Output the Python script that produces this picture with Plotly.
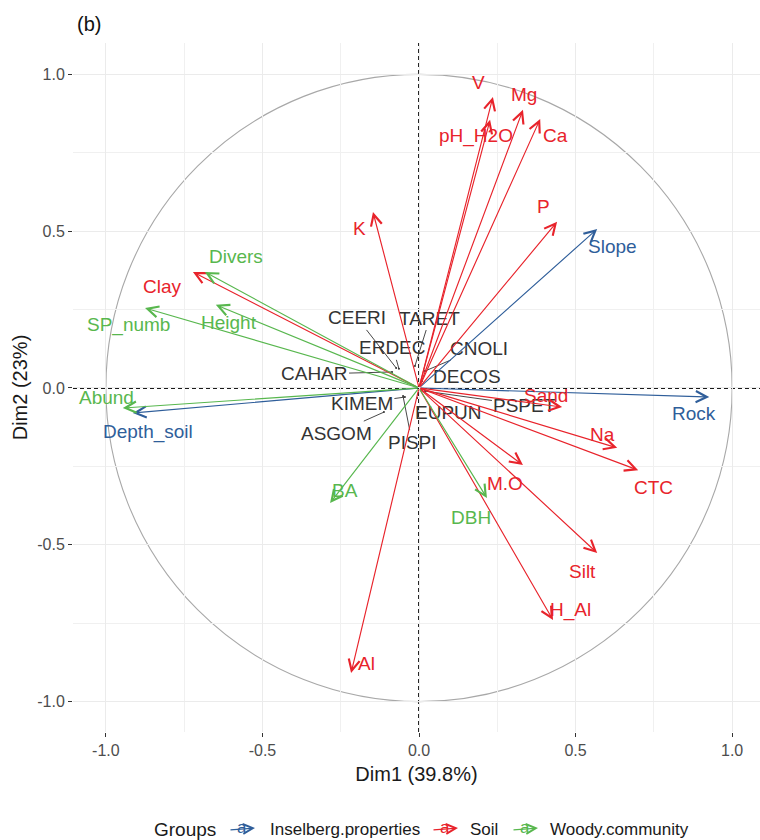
import plotly.graph_objects as go

# ---- variable loadings (correlation circle) ----
var_names = ["Rock", "Slope", "Depth_soil",
             "V", "pH_H2O", "Mg", "Ca", "P", "K", "Clay", "Sand", "Na", "CTC",
             "M.O", "Silt", "H_Al", "Al",
             "Divers", "SP_numb", "Height", "Abund", "BA", "DBH"]
var_groups = ["Inselberg.properties"] * 3 + ["Soil"] * 14 + ["Woody.community"] * 6
dim1 = [0.927, 0.569, -0.914,
        0.236, 0.227, 0.332, 0.387, 0.441, -0.147, -0.722, 0.457, 0.633, 0.700,
        0.332, 0.569, 0.428, -0.217,
        -0.684, -0.875, -0.649, -0.946, -0.284, 0.217]
dim2 = [-0.029, 0.507, -0.080,
        0.928, 0.855, 0.887, 0.858, 0.530, 0.561, 0.370, -0.061, -0.191, -0.262,
        -0.246, -0.526, -0.740, -0.909,
        0.370, 0.255, 0.265, -0.064, -0.367, -0.351]

# ---- individuals (species codes) ----
ind_names = ["CEERI", "TARET", "ERDEC", "CNOLI", "CAHAR", "DECOS",
             "KIMEM", "ASGOM", "EUPUN", "PISPI", "PSPET"]
ind_dim1 = [-0.073, -0.013, -0.064, 0.019, -0.086, 0.010,
            -0.045, -0.112, -0.006, -0.051, 0.019]
ind_dim2 = [0.064, 0.070, 0.061, 0.054, 0.051, 0.022,
            -0.029, -0.077, -0.032, -0.026, -0.010]

group_order = ["Inselberg.properties", "Soil", "Woody.community"]
group_colors = {"Inselberg.properties": "#2F5E9A",
                "Soil": "#E8232B",
                "Woody.community": "#58B74E"}

# label placement (pixel offsets from arrow tips; right, down)
var_label_offsets = {
    "Rock": (-15, 16), "Slope": (15, 18), "Depth_soil": (15, 19),
    "V": (-14, -14), "pH_H2O": (-14, 16), "Mg": (1, -15), "Ca": (15, 17),
    "P": (-14, -15), "K": (-13, 16), "Clay": (-30, 15), "Sand": (-16, -12),
    "Na": (-15, -13), "CTC": (15, 17), "M.O": (-18, 18), "Silt": (-15, 19),
    "H_Al": (17, -10), "Al": (15, -10),
    "Divers": (31, -15), "SP_numb": (-17, 17), "Height": (13, 18),
    "Abund": (-16, -11), "BA": (15, -13), "DBH": (-16, 19),
}
# repelled label offsets for individuals (pixels; right, down) and whether a leader is drawn
ind_label_offsets = {
    "CEERI": (-39, -50, True), "TARET": (15, -48, True), "ERDEC": (-6, -21, True),
    "CNOLI": (54, -23, True), "CAHAR": (-78, 2, True), "DECOS": (45, -5, False),
    "KIMEM": (-43, 6, True), "ASGOM": (-47, 21, True), "EUPUN": (31, 14, False),
    "PISPI": (9, 46, True), "PSPET": (100, 14, True),
}

FONT = "Liberation Sans, Arial, sans-serif"
W, H = 760, 840
ML, MR, MT, MB = 73, 0, 43, 108
XR = [-1.105, 1.089]
YR = [-1.097, 1.100]
PW = W - ML - MR
PH = H - MT - MB


def paper_x(px):
    return (px - ML) / PW


def paper_y(py):
    return (H - MB - py) / PH


fig = go.Figure()
# individual positions (tiny dark dots at the origin cluster)
fig.add_trace(go.Scatter(x=ind_dim1, y=ind_dim2, mode="markers",
                         marker=dict(size=2, color="#333333"),
                         showlegend=False, hoverinfo="skip"))

# reference lines and unit circle
fig.add_shape(type="line", xref="x", yref="y", x0=0, x1=0, y0=YR[0], y1=YR[1],
              line=dict(color="#1a1a1a", width=1.9, dash="4px,3px"), layer="below")
fig.add_shape(type="line", xref="x", yref="y", x0=XR[0], x1=XR[1], y0=0, y1=0,
              line=dict(color="#1a1a1a", width=1.9, dash="4px,3px"), layer="below")
fig.add_shape(type="circle", xref="x", yref="y", x0=-1, x1=1, y0=-1, y1=1,
              line=dict(color="#a8a8a8", width=1.1), layer="below")

annotations = []

# individual labels with leader segments
for name, xv, yv in zip(ind_names, ind_dim1, ind_dim2):
    dx, dy, seg = ind_label_offsets[name]
    if seg:
        annotations.append(dict(
            x=xv, y=yv, xref="x", yref="y", ax=dx, ay=dy,
            text=name, showarrow=True, arrowhead=0, arrowwidth=0.9,
            arrowcolor="#333333", standoff=0,
            font=dict(family=FONT, size=19, color="#333333")))
    else:
        annotations.append(dict(
            x=xv, y=yv, xref="x", yref="y", xshift=dx, yshift=-dy,
            text=name, showarrow=False,
            font=dict(family=FONT, size=19, color="#333333")))

# variable arrows from the origin
for name, g, xv, yv in zip(var_names, var_groups, dim1, dim2):
    col = group_colors[g]
    annotations.append(dict(
        x=xv, y=yv, xref="x", yref="y", ax=0, ay=0, axref="x", ayref="y",
        text="", showarrow=True, arrowhead=5, arrowsize=1.9, arrowwidth=1.15,
        arrowcolor=col, standoff=0, startstandoff=0))

# variable labels
for name, g, xv, yv in zip(var_names, var_groups, dim1, dim2):
    dx, dy = var_label_offsets[name]
    annotations.append(dict(
        x=xv, y=yv, xref="x", yref="y", xshift=dx, yshift=-dy,
        text=name, showarrow=False,
        font=dict(family=FONT, size=19, color=group_colors[g])))

# panel tag
annotations.append(dict(
    x=paper_x(75), y=paper_y(24), xref="paper", yref="paper",
    xanchor="left", yanchor="middle", text="(b)", showarrow=False,
    font=dict(family=FONT, size=20, color="#111111")))

# legend row
LEG_Y = 829
annotations.append(dict(
    x=paper_x(152), y=paper_y(LEG_Y), xref="paper", yref="paper",
    xanchor="left", yanchor="middle", text="Groups", showarrow=False,
    font=dict(family=FONT, size=19, color="#1a1a1a")))
legend_slots = {"Inselberg.properties": (242, 268),
                "Soil": (445, 468),
                "Woody.community": (525, 548)}
for g in group_order:
    gx, tx = legend_slots[g]
    col = group_colors[g]
    annotations.append(dict(
        x=paper_x(gx + 13), y=paper_y(LEG_Y - 1), xref="paper", yref="paper",
        ax=-26, ay=2, text="", showarrow=True, arrowhead=5, arrowsize=1.5,
        arrowwidth=1.3, arrowcolor=col, standoff=0))
    annotations.append(dict(
        x=paper_x(gx), y=paper_y(LEG_Y - 2), xref="paper", yref="paper",
        xanchor="center", yanchor="middle", text="a", showarrow=False,
        font=dict(family=FONT, size=17, color=col)))
    annotations.append(dict(
        x=paper_x(tx), y=paper_y(LEG_Y), xref="paper", yref="paper",
        xanchor="left", yanchor="middle", text=g, showarrow=False,
        font=dict(family=FONT, size=17, color="#1a1a1a")))

axis_common = dict(
    showline=False, zeroline=False,
    showgrid=True, gridcolor="#ebebeb", gridwidth=1,
    minor=dict(showgrid=True, gridcolor="#f0f0f0", gridwidth=0.9, dtick=0.25),
    ticks="outside", ticklen=4, tickwidth=1.2, tickcolor="#333333",
    tickmode="array", tickvals=[-1.0, -0.5, 0.0, 0.5, 1.0],
    ticktext=["-1.0", "-0.5", "0.0", "0.5", "1.0"],
    tickfont=dict(family=FONT, size=16, color="#4d4d4d"),
)

fig.update_layout(
    width=W, height=H,
    margin=dict(l=ML, r=MR, t=MT, b=MB, pad=0),
    paper_bgcolor="white", plot_bgcolor="white",
    showlegend=False,
    xaxis=dict(range=XR, **axis_common,
               title=dict(text="Dim1 (39.8%)", standoff=8,
                          font=dict(family=FONT, size=20, color="#1a1a1a"))),
    yaxis=dict(range=YR, **axis_common,
               title=dict(text="Dim2 (23%)", standoff=4,
                          font=dict(family=FONT, size=20, color="#1a1a1a"))),
    annotations=annotations,
)

fig.write_html("out.html")
